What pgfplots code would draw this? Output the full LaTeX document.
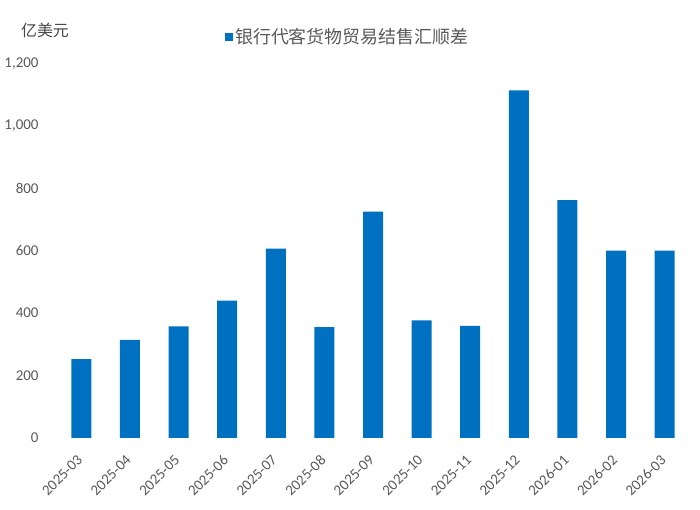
\documentclass[border=0pt]{standalone}
\usepackage{pgfplots}
\pgfplotsset{compat=1.18}
\usepackage{fontspec}
\setmainfont{Carlito}
\newfontfamily\cjk{Noto Sans CJK SC}
\definecolor{barblue}{HTML}{0070C0}
\definecolor{txtgray}{HTML}{595959}
\begin{document}
\begin{tikzpicture}[x=1bp,y=1bp]
\useasboundingbox (0,0) rectangle (700,510);
\begin{axis}[
  scale only axis, width=632bp, height=374.5bp,
  at={(57bp,72bp)}, anchor=south west,
  xmin=-0.5, xmax=12.5, ymin=0, ymax=1200,
  axis line style={draw=none}, tick style={draw=none},
  ytick={0,200,...,1200},
  /pgf/number format/assume math mode=true,
  /pgf/number format/1000 sep={,},
  yticklabel style={font=\fontsize{15}{16}\selectfont, text=txtgray, xshift=-15bp},
  xtick=data,
  xticklabels={2025-03,2025-04,2025-05,2025-06,2025-07,2025-08,2025-09,2025-10,2025-11,2025-12,2026-01,2026-02,2026-03},
  xticklabel style={xshift=-5bp, yshift=-7bp, rotate=45, anchor=north east, font=\fontsize{15}{16}\selectfont, text=txtgray},
  ybar, bar width=20bp,
  clip=false,
  legend style={at={(0.46,1.071)}, anchor=center, draw=none, fill=none,
    font=\cjk\fontsize{18}{20}\selectfont, text=txtgray, inner sep=0pt},
  legend image code/.code={\fill[barblue] (1bp,-4bp) rectangle (9bp,4bp);},
]
\addplot[fill=barblue, draw=none] coordinates {
(0,253) (1,314) (2,358) (3,440) (4,607) (5,355) (6,725) (7,377) (8,359) (9,1114) (10,762) (11,600) (12,600)
};
\addlegendentry{银行代客货物贸易结售汇顺差}
\end{axis}
\node[font=\cjk\fontsize{16}{18}\selectfont, text=txtgray!80!black] at (45,480) {亿美元};
\end{tikzpicture}
\end{document}
